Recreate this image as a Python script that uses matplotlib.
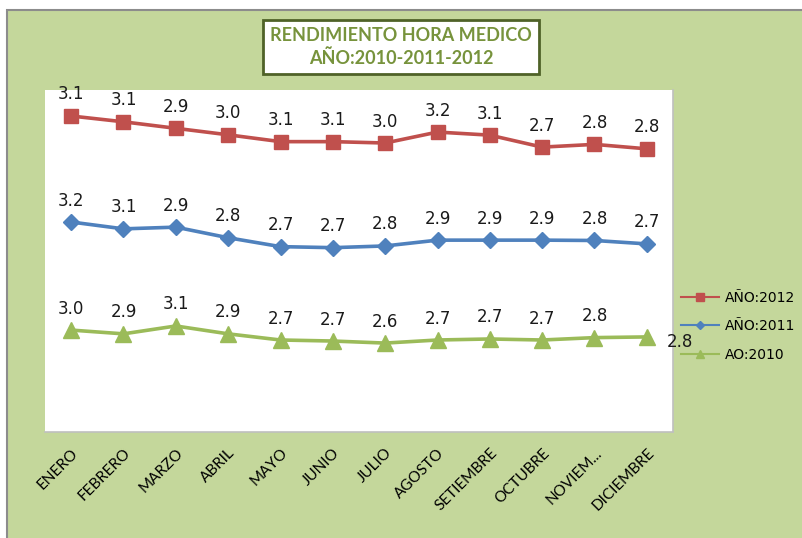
import numpy as np
import matplotlib
matplotlib.use('Agg')
import matplotlib.pyplot as plt
from matplotlib.patches import Rectangle

months = ['ENERO', 'FEBRERO', 'MARZO', 'ABRIL', 'MAYO', 'JUNIO', 'JULIO',
          'AGOSTO', 'SETIEMBRE', 'OCTUBRE', 'NOVIEM...', 'DICIEMBRE']
y2010 = [2.98, 2.87, 3.10, 2.87, 2.69, 2.66, 2.60, 2.69, 2.72, 2.69, 2.76, 2.78]
y2011 = [3.16, 3.07, 2.89, 2.81, 2.73, 2.73, 2.84, 2.92, 2.89, 2.92, 2.84, 2.72]
y2012 = [3.10, 3.13, 2.89, 3.01, 3.07, 3.10, 3.01, 3.16, 3.07, 2.72, 2.81, 2.78]
series_names = ['AO:2010', 'AÑO:2011', 'AÑO:2012']

green_bg = '#C4D79B'
fig = plt.figure(figsize=(8.02, 5.38), dpi=100)
fig.patch.set_facecolor('white')

# outer chart area (green with gray border on top/left)
fig.patches.append(Rectangle((7 / 802, -0.01), 1.0, 1 - 10 / 538 + 0.01,
                             transform=fig.transFigure, facecolor=green_bg,
                             edgecolor='#8C8C8C', linewidth=1.5, zorder=-5))

ax = fig.add_axes([45 / 802, 1 - 432 / 538, 628 / 802, 342 / 538])
ax.set_zorder(1)
ax.set_facecolor('white')
for side in ['top', 'left']:
    ax.spines[side].set_visible(False)
for side in ['bottom', 'right']:
    ax.spines[side].set_color('#BFBFBF')
    ax.spines[side].set_linewidth(1.2)

x = np.arange(len(months))
stack = np.cumsum([y2010, y2011, y2012], axis=0)
styles = [('#9BBB59', '^', 11), ('#4F81BD', 'D', 8), ('#C0504D', 's', 10)]

handles = []
for i, (vals, name) in enumerate(zip([y2010, y2011, y2012], series_names)):
    color, marker, ms = styles[i]
    h, = ax.plot(x, stack[i], color=color, lw=2.6, marker=marker, ms=ms,
                 markeredgecolor=color, label=name, zorder=3)
    handles.append(h)
    for j, v in enumerate(vals):
        if i == 0 and j == len(vals) - 1:
            ax.annotate(f'{v:.1f}', (x[j], stack[i][j]), xytext=(14, -4),
                        textcoords='offset points', ha='left', va='center',
                        fontsize=12, color='#1a1a1a')
        else:
            ax.annotate(f'{v:.1f}', (x[j], stack[i][j]), xytext=(0, 9),
                        textcoords='offset points', ha='center', va='bottom',
                        fontsize=12, color='#1a1a1a')

ax.set_xlim(-0.5, len(months) - 0.5)
ax.set_ylim(0, 10)
ax.set_yticks([])
ax.set_xticks(x)
ax.set_xticklabels(months, rotation=45, ha='right', rotation_mode='anchor',
                   fontsize=11, family='Lato')
ax.tick_params(axis='x', length=0, pad=10)

# legend
small = []
for h in handles[::-1]:
    lh, = ax.plot([], [], color=h.get_color(), marker=h.get_marker(),
                  ms=h.get_markersize() * 0.55, lw=1.5)
    small.append(lh)
leg = fig.legend(small, series_names[::-1], loc='upper left',
                 bbox_to_anchor=(668 / 802, 1 - 278 / 538), frameon=False,
                 fontsize=10, handlelength=2.8, labelspacing=1.05,
                 handletextpad=0.4)

# title box
fig.text(0.5, 1 - 47 / 538, 'RENDIMIENTO HORA MEDICO\nAÑO:2010-2011-2012',
         ha='center', va='center', fontsize=13, fontweight='bold',
         family='Lato', color='#77933C', linespacing=1.3,
         bbox=dict(boxstyle='square,pad=0.4', facecolor='white',
                   edgecolor='#4F6228', linewidth=2))

fig.savefig('out.png', dpi=100, facecolor=fig.get_facecolor())
